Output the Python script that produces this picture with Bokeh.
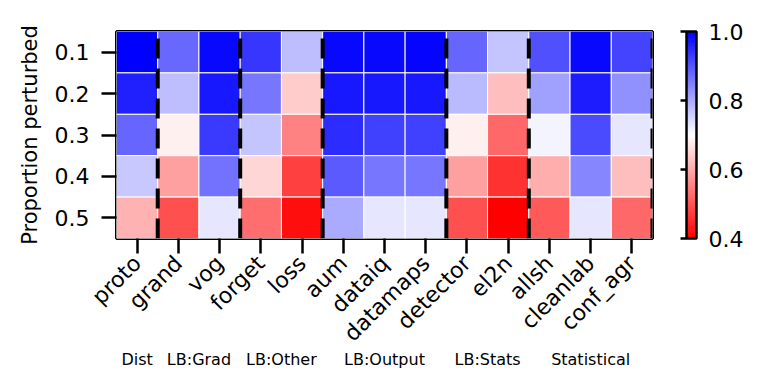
import numpy as np
from bokeh.plotting import figure
from bokeh.models import (ColumnDataSource, LinearColorMapper, ColorBar, FixedTicker,
                          PrintfTickFormatter, Range1d, LinearAxis)
from bokeh.transform import transform
from bokeh.embed import file_html
from bokeh.resources import INLINE

methods = ["proto", "grand", "vog", "forget", "loss", "aum", "dataiq", "datamaps",
           "detector", "el2n", "allsh", "cleanlab", "conf_agr"]
proportions = ["0.1", "0.2", "0.3", "0.4", "0.5"]
groups = ["Dist", "LB:Grad", "LB:Other", "LB:Output", "LB:Stats", "Statistical"]
group_sizes = [1, 2, 2, 3, 2, 3]

row_01 = [1.00, 0.876, 0.99, 0.935, 0.776, 0.99, 0.99, 0.995, 0.88, 0.77, 0.906, 0.99, 0.918]
row_02 = [0.962, 0.776, 0.97, 0.86, 0.641, 0.97, 0.97, 0.97, 0.782, 0.624, 0.812, 0.965, 0.83]
row_03 = [0.88, 0.682, 0.93, 0.77, 0.553, 0.947, 0.924, 0.924, 0.682, 0.524, 0.712, 0.912, 0.73]
row_04 = [0.765, 0.588, 0.865, 0.653, 0.476, 0.894, 0.86, 0.86, 0.588, 0.459, 0.606, 0.841, 0.624]
row_05 = [0.61, 0.494, 0.73, 0.53, 0.418, 0.80, 0.73, 0.73, 0.494, 0.40, 0.506, 0.73, 0.524]
rows = [row_01, row_02, row_03, row_04, row_05]

cb_ticks = [0.4, 0.6, 0.8, 1.0]
vmin, vmax = 0.4, 1.0

# bwr_r colormap: red -> white -> blue
pal = []
for t in np.linspace(0, 1, 256):
    if t < 0.5:
        s = int(round(255 * t / 0.5))
        pal.append("#%02x%02x%02x" % (255, s, s))
    else:
        s = int(round(255 * (1 - (t - 0.5) / 0.5)))
        pal.append("#%02x%02x%02x" % (s, s, 255))
mapper = LinearColorMapper(palette=pal, low=vmin, high=vmax)

xs, ys, vs = [], [], []
for j, r in enumerate(rows):
    for i, v in enumerate(r):
        xs.append(i + 0.5)
        ys.append(j + 0.5)
        vs.append(v)
src = ColumnDataSource(dict(x=xs, y=ys, v=vs))

FONT = "DejaVu Sans"
p = figure(frame_width=536, frame_height=207, output_backend="svg", toolbar_location=None,
           x_range=Range1d(0, len(methods)), y_range=Range1d(len(proportions), 0),
           min_border_left=116, min_border_top=31, min_border_right=96, min_border_bottom=10)
p.background_fill_color = "white"
p.border_fill_color = "white"
p.grid.visible = False
p.outline_line_color = "black"
p.outline_line_width = 3

p.rect(x="x", y="y", width=1, height=1, source=src,
       fill_color=transform("v", mapper), line_color="white", line_width=1)

bounds = list(np.cumsum(group_sizes))
p.segment(x0=bounds, y0=[len(proportions)] * len(bounds), x1=bounds, y1=[0] * len(bounds),
          line_color="black", line_width=4, line_dash="20 10")

centers = [float(b - s / 2) for b, s in zip(bounds, group_sizes)]

p.xaxis.ticker = FixedTicker(ticks=[i + 0.5 for i in range(len(methods))])
p.xaxis.major_label_overrides = {i + 0.5: m for i, m in enumerate(methods)}
p.xaxis.major_label_orientation = np.pi / 4
p.yaxis.ticker = FixedTicker(ticks=[j + 0.5 for j in range(len(proportions))])
p.yaxis.major_label_overrides = {j + 0.5: s for j, s in enumerate(proportions)}
p.yaxis.axis_label = "Proportion perturbed"

for ax in (p.xaxis[0], p.yaxis[0]):
    ax.axis_line_color = None
    ax.major_tick_line_color = "black"
    ax.major_tick_line_width = 2.5
    ax.major_tick_out = 15
    ax.major_tick_in = 0
    ax.minor_tick_line_color = None
    ax.major_label_text_font = FONT
    ax.major_label_text_font_size = "22px"
    ax.major_label_text_color = "black"
    ax.major_label_standoff = 6
    ax.axis_label_text_font = FONT
    ax.axis_label_text_font_size = "21px"
    ax.axis_label_text_font_style = "normal"
    ax.axis_label_text_color = "black"
p.yaxis.major_label_standoff = 12
p.yaxis.axis_label_standoff = 10

gax = LinearAxis(ticker=FixedTicker(ticks=centers),
                 major_label_overrides={c: g for c, g in zip(centers, groups)},
                 axis_line_color=None, major_tick_line_color=None, minor_tick_line_color=None,
                 major_label_text_font=FONT, major_label_text_font_size="16px",
                 major_label_text_color="black", major_label_standoff=-14)
p.add_layout(gax, "below")

cb = ColorBar(color_mapper=mapper, ticker=FixedTicker(ticks=cb_ticks),
              formatter=PrintfTickFormatter(format="%.1f"),
              width=10, height=207, padding=0, margin=0, location=(34, 0),
              bar_line_color="black", bar_line_width=2.5,
              major_tick_in=0, major_tick_out=0, label_standoff=12,
              major_label_text_font=FONT, major_label_text_font_size="22px",
              major_label_text_color="black", border_line_color=None,
              background_fill_color=None)
p.add_layout(cb, "right")

# short tick marks on the left side of the colour bar (no labels)
cb_ticks_left = ColorBar(color_mapper=mapper, ticker=FixedTicker(ticks=cb_ticks),
                         formatter=PrintfTickFormatter(format="%.1f"),
                         width=6, height=207, padding=0, margin=0,
                         location=(536 + 28, 0), scale_alpha=0,
                         bar_line_color=None, major_tick_in=6, major_tick_out=0,
                         major_tick_line_color="black", major_tick_line_width=2.5,
                         major_label_text_alpha=0, major_label_text_font_size="1px",
                         border_line_color=None, background_fill_color=None)
p.add_layout(cb_ticks_left, "center")

open("out.html", "w").write(file_html(p, INLINE))
